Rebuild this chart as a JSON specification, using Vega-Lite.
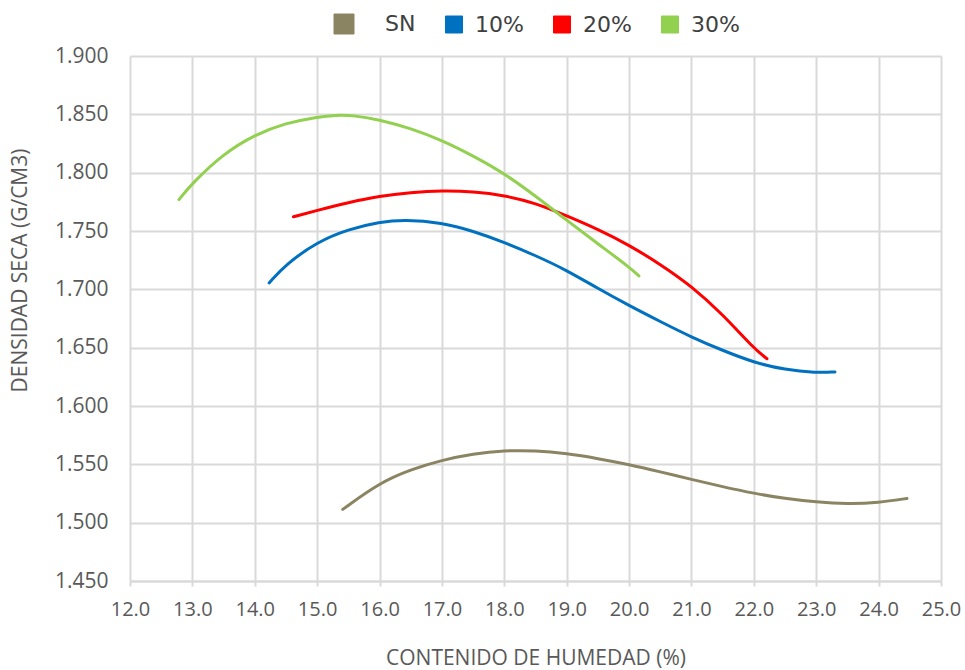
{
  "$schema": "https://vega.github.io/schema/vega-lite/v6.json",
  "autosize": "none",
  "width": 811,
  "height": 525,
  "padding": {"left": 130, "top": 56, "right": 24, "bottom": 89},
  "background": "white",
  "config": {
    "view": {"stroke": null},
    "font": "Open Sans"
  },
  "data": {
    "values": [
      {"serie": "SN", "x": 15.41, "y": 1.5114},
      {"serie": "SN", "x": 16.0, "y": 1.5342},
      {"serie": "SN", "x": 16.5, "y": 1.5455},
      {"serie": "SN", "x": 17.0, "y": 1.5536},
      {"serie": "SN", "x": 17.5, "y": 1.5590},
      {"serie": "SN", "x": 18.0, "y": 1.5619},
      {"serie": "SN", "x": 18.5, "y": 1.5618},
      {"serie": "SN", "x": 19.0, "y": 1.5593},
      {"serie": "SN", "x": 19.5, "y": 1.5550},
      {"serie": "SN", "x": 20.0, "y": 1.5499},
      {"serie": "SN", "x": 20.5, "y": 1.5436},
      {"serie": "SN", "x": 21.0, "y": 1.5371},
      {"serie": "SN", "x": 21.5, "y": 1.5308},
      {"serie": "SN", "x": 22.0, "y": 1.5251},
      {"serie": "SN", "x": 22.5, "y": 1.5207},
      {"serie": "SN", "x": 23.0, "y": 1.5176},
      {"serie": "SN", "x": 23.5, "y": 1.5160},
      {"serie": "SN", "x": 24.0, "y": 1.5171},
      {"serie": "SN", "x": 24.455, "y": 1.5208},

      {"serie": "10%", "x": 14.23, "y": 1.7055},
      {"serie": "10%", "x": 14.5, "y": 1.7215},
      {"serie": "10%", "x": 15.0, "y": 1.7406},
      {"serie": "10%", "x": 15.5, "y": 1.7515},
      {"serie": "10%", "x": 16.0, "y": 1.7577},
      {"serie": "10%", "x": 16.4, "y": 1.7598},
      {"serie": "10%", "x": 17.0, "y": 1.7572},
      {"serie": "10%", "x": 17.5, "y": 1.7500},
      {"serie": "10%", "x": 18.0, "y": 1.7403},
      {"serie": "10%", "x": 18.5, "y": 1.7290},
      {"serie": "10%", "x": 19.0, "y": 1.7164},
      {"serie": "10%", "x": 19.5, "y": 1.7007},
      {"serie": "10%", "x": 20.0, "y": 1.6861},
      {"serie": "10%", "x": 20.5, "y": 1.6724},
      {"serie": "10%", "x": 21.0, "y": 1.6590},
      {"serie": "10%", "x": 21.5, "y": 1.6476},
      {"serie": "10%", "x": 22.0, "y": 1.6373},
      {"serie": "10%", "x": 22.5, "y": 1.6310},
      {"serie": "10%", "x": 23.0, "y": 1.6285},
      {"serie": "10%", "x": 23.3, "y": 1.6292},

      {"serie": "20%", "x": 14.62, "y": 1.7622},
      {"serie": "20%", "x": 15.0, "y": 1.7677},
      {"serie": "20%", "x": 15.5, "y": 1.7745},
      {"serie": "20%", "x": 16.0, "y": 1.7800},
      {"serie": "20%", "x": 16.5, "y": 1.7830},
      {"serie": "20%", "x": 17.0, "y": 1.7846},
      {"serie": "20%", "x": 17.5, "y": 1.7838},
      {"serie": "20%", "x": 18.0, "y": 1.7806},
      {"serie": "20%", "x": 18.5, "y": 1.7740},
      {"serie": "20%", "x": 19.0, "y": 1.7630},
      {"serie": "20%", "x": 19.5, "y": 1.7515},
      {"serie": "20%", "x": 20.0, "y": 1.7380},
      {"serie": "20%", "x": 20.5, "y": 1.7215},
      {"serie": "20%", "x": 21.0, "y": 1.7028},
      {"serie": "20%", "x": 21.5, "y": 1.6786},
      {"serie": "20%", "x": 22.0, "y": 1.6493},
      {"serie": "20%", "x": 22.21, "y": 1.6405},

      {"serie": "30%", "x": 12.785, "y": 1.7769},
      {"serie": "30%", "x": 13.0, "y": 1.7911},
      {"serie": "30%", "x": 13.5, "y": 1.8163},
      {"serie": "30%", "x": 14.0, "y": 1.8326},
      {"serie": "30%", "x": 14.5, "y": 1.8426},
      {"serie": "30%", "x": 15.0, "y": 1.8477},
      {"serie": "30%", "x": 15.3, "y": 1.8494},
      {"serie": "30%", "x": 15.6, "y": 1.8490},
      {"serie": "30%", "x": 16.0, "y": 1.8454},
      {"serie": "30%", "x": 16.5, "y": 1.8380},
      {"serie": "30%", "x": 17.0, "y": 1.8278},
      {"serie": "30%", "x": 17.5, "y": 1.8145},
      {"serie": "30%", "x": 18.0, "y": 1.7994},
      {"serie": "30%", "x": 18.5, "y": 1.7800},
      {"serie": "30%", "x": 19.0, "y": 1.7592},
      {"serie": "30%", "x": 19.5, "y": 1.7390},
      {"serie": "30%", "x": 20.0, "y": 1.7192},
      {"serie": "30%", "x": 20.157, "y": 1.7115}
    ]
  },
  "mark": {"type": "line", "interpolate": "basis", "strokeWidth": 3, "strokeCap": "round", "clip": true},
  "encoding": {
    "x": {
      "field": "x", "type": "quantitative",
      "scale": {"domain": [12, 25], "nice": false, "zero": false},
      "axis": {
        "title": "CONTENIDO DE HUMEDAD (%)",
        "values": [12,13,14,15,16,17,18,19,20,21,22,23,24,25],
        "format": ".1f",
        "grid": true, "gridColor": "#d9d9d9", "gridWidth": 2,
        "domain": true, "domainColor": "#d9d9d9", "domainWidth": 2,
        "ticks": true, "tickColor": "#d9d9d9", "tickWidth": 2, "tickSize": 5,
        "labelFont": "Open Sans", "labelFontSize": 20, "labelColor": "#595959", "labelPadding": 13,
        "labelFlush": false, "labelOverlap": false, "labelBound": false,
        "titleFont": "Open Sans", "titleFontSize": 21, "titleFontWeight": "normal", "titleColor": "#595959",
        "titlePadding": 28
      }
    },
    "y": {
      "field": "y", "type": "quantitative",
      "scale": {"domain": [1.45, 1.9], "nice": false, "zero": false},
      "axis": {
        "title": "DENSIDAD SECA (G/CM3)",
        "values": [1.45,1.5,1.55,1.6,1.65,1.7,1.75,1.8,1.85,1.9],
        "format": ".3f",
        "grid": true, "gridColor": "#d9d9d9", "gridWidth": 2,
        "domain": false, "ticks": false,
        "labelFont": "Open Sans", "labelFontSize": 21, "labelColor": "#595959", "labelPadding": 22,
        "labelFlush": false, "labelOverlap": false, "labelBound": false,
        "titleFont": "Open Sans", "titleFontSize": 21, "titleFontWeight": "normal", "titleColor": "#595959",
        "titleX": -110, "titleY": 214, "titleBaseline": "middle", "titleAlign": "center", "titleAngle": -90
      }
    },
    "color": {
      "field": "serie", "type": "nominal",
      "scale": {"domain": ["SN", "10%", "20%", "30%"], "range": ["#8b8462", "#0070c0", "#ff0000", "#92d050"]},
      "legend": {
        "title": null,
        "orient": "none",
        "direction": "horizontal",
        "legendX": 203,
        "legendY": -43,
        "symbolType": "square",
        "symbolSize": 289,
        "symbolStrokeWidth": 1,
        "labelFont": "DejaVu Sans",
        "labelFontSize": 22,
        "labelColor": "#404040",
        "labelOffset": 10,
        "columnPadding": 27,
        "encode": {
          "symbols": {
            "update": {
              "fill": {"signal": "scale('color', datum.value)"},
              "fillOpacity": {"value": 1},
              "stroke": {"signal": "datum.value === 'SN' ? '#ed7d31' : scale('color', datum.value)"},
              "size": {"signal": "datum.value === 'SN' ? 400 : 289"}
            }
          },
          "labels": {
            "update": {
              "dx": {"signal": "datum.value === 'SN' ? 20 : 0"}
            }
          }
        }
      }
    }
  }
}
